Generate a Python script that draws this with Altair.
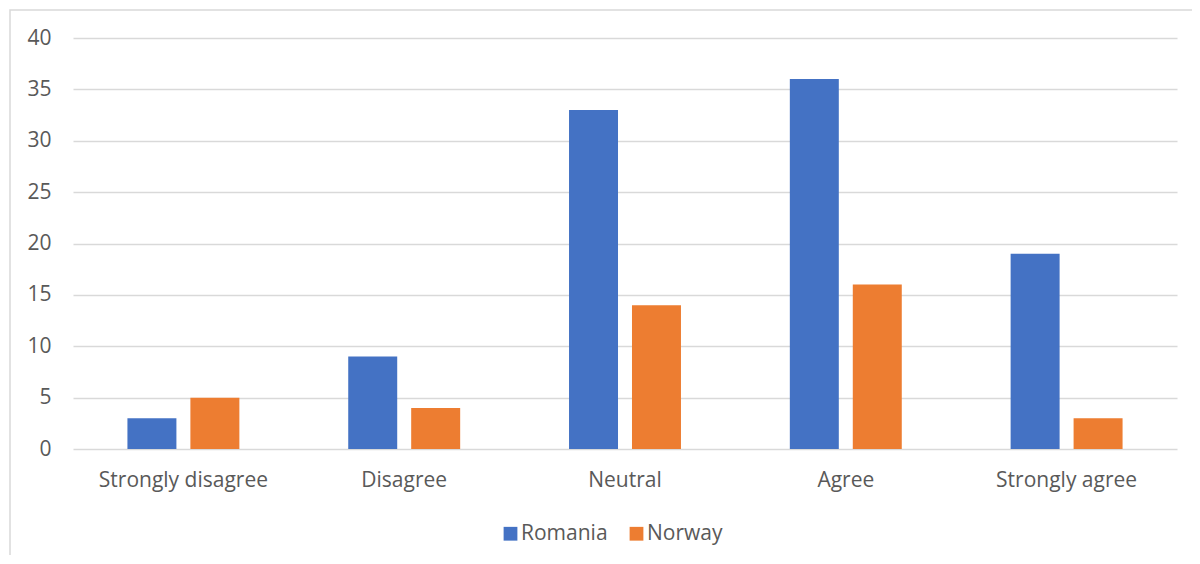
import altair as alt
import pandas as pd

categories = ["Strongly disagree", "Disagree", "Neutral", "Agree", "Strongly agree"]
romania = [3, 9, 33, 36, 19]
norway = [5, 4, 14, 16, 3]
series = ["Romania", "Norway"]
colors = ["#4472C4", "#ED7D31"]

rows = []
for c, r, n in zip(categories, romania, norway):
    rows.append({"cat": c, "country": "Romania", "value": r})
    rows.append({"cat": c, "country": "Norway", "value": n})
df = pd.DataFrame(rows)

FONT = "Open Sans"
TXT = "#595959"
GRID = "#D9D9D9"
FS = 21

W, H = 1104, 411

bars = alt.Chart(df).mark_bar().encode(
    x=alt.X("cat:N", sort=categories, title=None,
            scale=alt.Scale(paddingInner=0.493, paddingOuter=0.2465),
            axis=alt.Axis(labelAngle=0, domain=False, ticks=False, labelPadding=20,
                          labelFontSize=FS, labelColor=TXT, labelFont=FONT, grid=False)),
    xOffset=alt.XOffset("country:N", sort=series,
                        scale=alt.Scale(paddingInner=0.222, paddingOuter=0)),
    y=alt.Y("value:Q", title=None,
            scale=alt.Scale(domain=[0, 40], nice=False),
            axis=alt.Axis(values=[0, 5, 10, 15, 20, 25, 30, 35, 40], domain=False, ticks=False,
                          labelPadding=22, labelFontSize=FS, labelColor=TXT, labelFont=FONT,
                          gridColor=GRID, gridWidth=1.3)),
    color=alt.Color("country:N", sort=series,
                    scale=alt.Scale(domain=series, range=colors),
                    legend=alt.Legend(title=None, orient="none", direction="horizontal",
                                      legendX=427, legendY=485, symbolType="square",
                                      symbolSize=190, symbolStrokeWidth=0,
                                      labelFontSize=FS, labelColor=TXT, labelFont=FONT,
                                      columnPadding=18, labelOffset=0)),
)

border = alt.Chart(pd.DataFrame({"a": [0]})).mark_rect(
    fill=None, stroke="#D9D9D9", strokeWidth=1.5
).encode(
    x=alt.value(-63), x2=alt.value(W + 60),
    y=alt.value(-28), y2=alt.value(H + 200),
)

chart = alt.layer(border, bars).properties(
    width=W, height=H,
    padding={"left": 65, "top": 30, "right": 15, "bottom": 106},
    autosize=alt.AutoSizeParams(type="none"),
    background="white",
).configure_view(stroke=None)

chart.save("out.html", embed_options={"renderer": "svg", "actions": False})
